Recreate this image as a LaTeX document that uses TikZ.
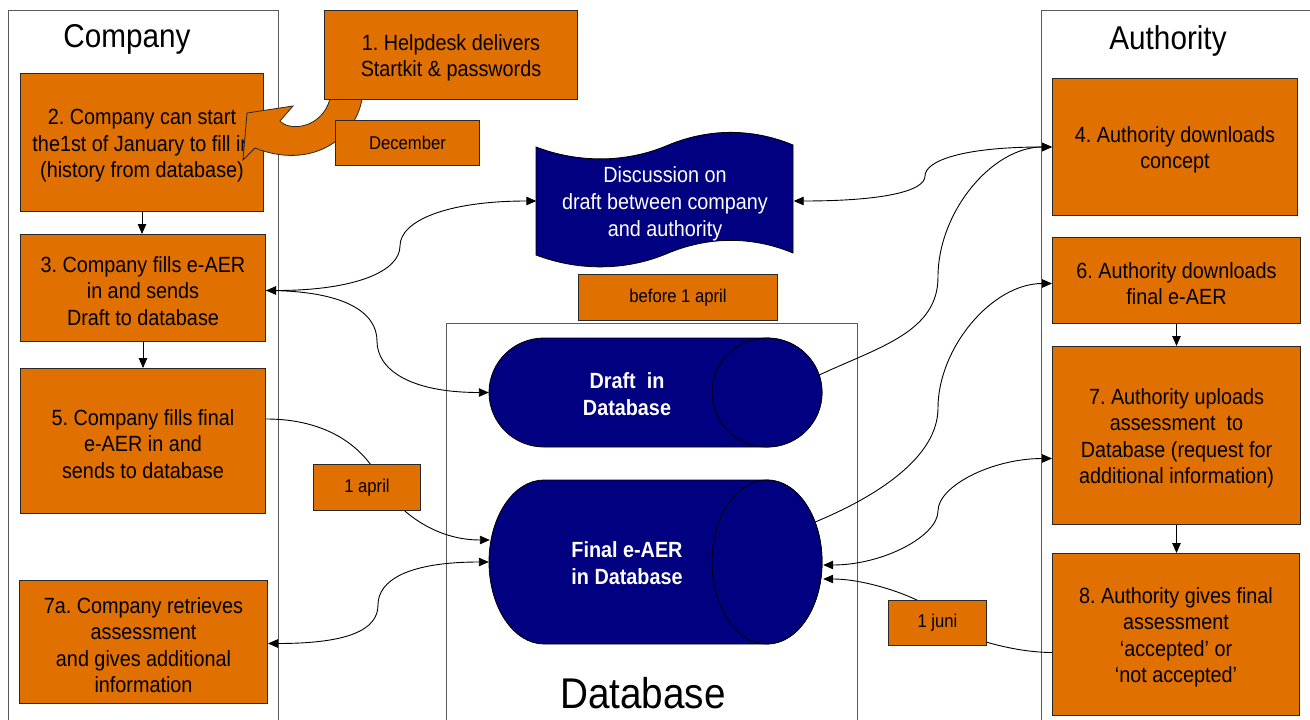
\documentclass[tikz,border=0pt]{standalone}
\usepackage{fontspec}
\setmainfont{Liberation Sans}[FakeStretch=0.9]
\usetikzlibrary{arrows.meta,calc}
\definecolor{orangeC}{RGB}{224,112,0}
\definecolor{navyC}{RGB}{0,0,128}
\definecolor{edgeC}{RGB}{40,40,40}
\definecolor{laneC}{RGB}{90,90,90}
\newcommand\BoxFont{\fontsize{22}{26.5}\selectfont}
\newcommand\LblFont{\fontsize{18.5}{22}\selectfont}
\newcommand\TitleFont{\fontsize{33}{38}\selectfont}
\newcommand\DbFont{\fontsize{43}{48}\selectfont}
\newcommand\TopStrut{\rule{0pt}{22pt}}
\frenchspacing
\begin{document}
\frenchspacing
\begin{tikzpicture}[x=1pt,y=-1pt,
  obox/.style={draw=edgeC, line width=1pt, fill=orangeC, align=center, font=\BoxFont\frenchspacing, inner sep=0pt, anchor=north west},
  lbl/.style={obox, font=\LblFont},
  lane/.style={draw=laneC, line width=1pt},
  navyshape/.style={fill=navyC, draw=black, line width=0.8pt},
  con/.style={line width=0.9pt, draw=black},
  arr/.style={con, -{Triangle[length=10pt,width=8.5pt]}},
  darr/.style={con, {Triangle[length=10pt,width=8.5pt]}-{Triangle[length=10pt,width=8.5pt]}},
  wtext/.style={text=white, align=center}
]
\useasboundingbox (0,0) rectangle (1310,720);
\fill[white] (0,0) rectangle (1310,720);
% lanes
\draw[lane] (8,722) -- (8,10) -- (278,10) -- (278,722);
\draw[lane] (1041,722) -- (1041,10) -- (1312,10);
\draw[lane] (446,722) -- (446,323) -- (857,323) -- (857,722);
\node[font=\TitleFont, anchor=base] (tcomp) at (127,47) {Company};
\node[font=\TitleFont, anchor=base] (tauth) at (1168,49) {Authority};
\node[font=\DbFont, anchor=base] (tdb) at (643,708) {Database};
% company boxes
\node[obox, minimum width=243pt, minimum height=138pt] (b2) at (20,73) {\TopStrut 2. Company can start\\the1st of January to fill in\\(history from database)};
\node[obox, minimum width=245pt, minimum height=107pt] (b3) at (20,234) {\TopStrut 3. Company fills e-AER\\in and sends\\Draft to database};
\node[obox, minimum width=245pt, minimum height=145pt] (b5) at (20,368) {\TopStrut 5. Company fills final\\e-AER in and\\sends to database};
\node[obox, minimum width=248pt, minimum height=123pt] (b7a) at (19,580) {\TopStrut 7a. Company retrieves\\assessment\\and gives additional\\information};
% authority boxes
\node[obox, minimum width=245pt, minimum height=137pt] (b4) at (1052,78) {\TopStrut 4. Authority downloads\\concept};
\node[obox, minimum width=248pt, minimum height=86pt] (b6) at (1052,237) {\TopStrut 6. Authority downloads\\final e-AER};
\node[obox, minimum width=248pt, minimum height=178pt] (b7) at (1052,346) {\TopStrut 7. Authority uploads\\assessment\ \ to\\Database (request for\\additional information)};
\node[obox, minimum width=247pt, minimum height=162pt] (b8) at (1052,553) {\TopStrut 8. Authority gives final\\assessment\\‘accepted’ or\\‘not accepted’};
% document shape
\draw[navyshape] (536,147) .. controls (578,163) and (625,163) .. (666,146) .. controls (708,128) and (752,128) .. (793,145) -- (793,253) .. controls (752,236) and (708,236) .. (666,254) .. controls (625,271) and (578,271) .. (536,255) -- cycle;
\node[wtext, font=\fontsize{22}{27}\selectfont, minimum width=257pt, minimum height=108pt, inner sep=0pt] (doc) at (665,201) {\rule{0pt}{21pt}Discussion on\\draft between company\\and authority};
% cylinders
\draw[navyshape] (544,338) -- (767,338) arc[start angle=90,end angle=-90,x radius=55pt,y radius=54.5pt] -- (544,447) arc[start angle=270,end angle=90,x radius=55pt,y radius=54.5pt] -- cycle;
\draw[navyshape] (767,392.5) ellipse[x radius=55pt,y radius=54.5pt];
\node[minimum width=333pt, minimum height=109pt, inner sep=0pt] (dr) at (655.5,392.5) {};
\node[wtext, font=\BoxFont\bfseries] (drt) at (627,394) {Draft\ \ in\\Database};
\draw[navyshape] (544,480) -- (767,480) arc[start angle=90,end angle=-90,x radius=55pt,y radius=82pt] -- (544,644) arc[start angle=270,end angle=90,x radius=55pt,y radius=82pt] -- cycle;
\draw[navyshape] (767,562) ellipse[x radius=55pt,y radius=82pt];
\node[minimum width=333pt, minimum height=164pt, inner sep=0pt] (fi) at (655.5,562) {};
\node[wtext, font=\BoxFont\bfseries] (fit) at (627,563) {Final e-AER\\in Database};
% connectors
\draw[darr] ($(b3.east)+(0,2.5)$) .. controls +(90,0) and +(0,25) .. (400,246) .. controls +(0,-25) and +(-90,0) .. (doc.west);
\draw[arr] ($(b3.east)+(0,2.5)$) .. controls +(80,0) and +(0,-28) .. (377,341) .. controls +(0,28) and +(-80,0) .. (dr.west);
\draw[darr] (doc.east) .. controls +(90,0) and +(0,15) .. (925,176) .. controls +(0,-15) and +(-90,0) .. (b4.west);
\draw[arr] ($(dr.east)+(-3,-17.5)$) .. controls +(60,-28) and +(0,55) .. (938,277) .. controls +(0,-65) and +(-60,0) .. (b4.west);
\draw[arr] ($(fi.east)+(-7,-40)$) .. controls +(60,-25) and +(0,50) .. (938,408) .. controls +(0,-60) and +(-60,0) .. ($(b6.west)+(0,3)$);
\draw[darr] ($(b7.west)+(0,23)$) .. controls +(-60,0) and +(0,-25) .. (938,511) .. controls +(0,25) and +(60,0) .. ($(fi.east)+(1,3)$);
\draw[arr] ($(b8.west)+(0,18)$) .. controls +(-50,0) and +(0,12) .. (937,616) .. controls +(0,-12) and +(50,0) .. ($(fi.east)+(1,17)$);
\draw[arr] ($(b5.east)+(0,-22)$) .. controls +(70,0) and +(-12,-25) .. (380,480) .. controls +(12,25) and +(-60,0) .. ($(fi.west)+(1,-22)$);
\draw[darr] ($(b7a.east)+(0,1.5)$) .. controls +(80,0) and +(0,25) .. (378,605) .. controls +(0,-25) and +(-80,0) .. (fi.west);
\draw[arr] (b2.south) -- (b2.south |- b3.north);
\draw[arr] (b3.south) -- (b3.south |- b5.north);
\draw[arr] (b6.south) -- (b6.south |- b7.north);
\draw[arr] (b7.south) -- (b7.south |- b8.north);
% curved block arrow from helpdesk
\draw[fill=orangeC, draw=edgeC, line width=0.8pt] (362,99) .. controls (355,140) and (310,170) .. (255,148) -- (243,160) -- (247,113) -- (293,106) -- (280,121) .. controls (290,132) and (322,128) .. (330,99) -- cycle;
\node[obox, minimum width=253pt, minimum height=89pt] (b1) at (324,10) {\TopStrut 1. Helpdesk delivers\\Startkit \& passwords};
\node[lbl, minimum width=144pt, minimum height=45pt] (dec) at (335,120) {December};
% date labels
\node[lbl, minimum width=199pt, minimum height=46pt] (bef) at (578,274) {before 1 april};
\node[lbl, minimum width=107pt, minimum height=46pt] (apr) at (313,464) {1 april};
\node[lbl, minimum width=98pt, minimum height=45pt] (jun) at (888,600) {1 juni};
\end{tikzpicture}
\end{document}
